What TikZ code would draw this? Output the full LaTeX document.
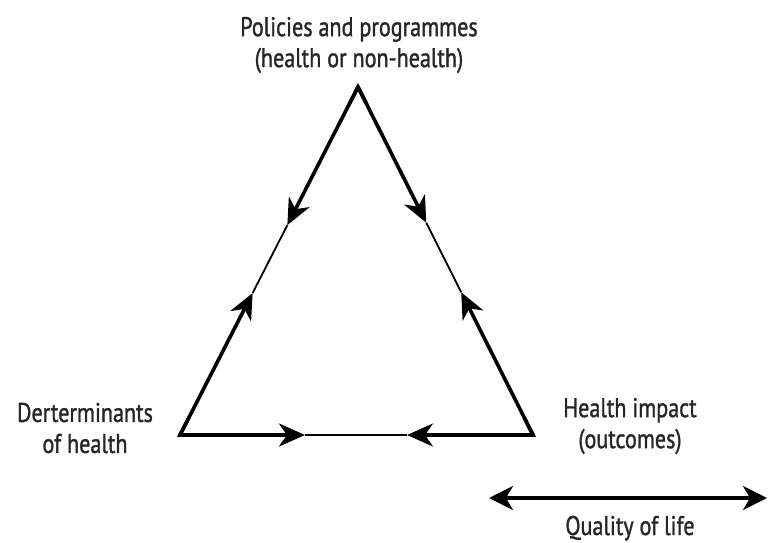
\documentclass[tikz,border=0pt]{standalone}
\usepackage{fontspec}
\setmainfont[FakeStretch=0.82,FakeBold=1.2]{PT Sans}
\usetikzlibrary{arrows.meta,calc}
\begin{document}
\begin{tikzpicture}[x=1pt,y=-1pt,
  lbl/.style={align=center,font=\fontsize{27}{31}\selectfont,text=black!85,inner sep=0pt},
  thickline/.style={line width=3.6pt,-{Stealth[length=26pt,width=23pt,inset=8pt]}},
  thinline/.style={line width=1.8pt},
  dbl/.style={line width=3.6pt,{Stealth[length=24pt,width=24pt,inset=7pt]}-{Stealth[length=24pt,width=24pt,inset=7pt]}}]
\useasboundingbox (0,0) rectangle (769,543);
\coordinate (T) at (358,87);
\coordinate (L) at (180,435);
\coordinate (R) at (533,435);
\coordinate (l1) at ($(T)!0.397!(L)$);
\coordinate (l2) at ($(T)!0.592!(L)$);
\coordinate (r1) at ($(T)!0.39!(R)$);
\coordinate (r2) at ($(T)!0.59!(R)$);
\coordinate (b1) at ($(L)!0.354!(R)$);
\coordinate (b2) at ($(L)!0.643!(R)$);
\draw[thinline] (l1) -- (l2);
\draw[thinline] (r1) -- (r2);
\draw[thinline] (b1) -- (b2);
\draw[thickline] (T) -- (l1);
\draw[thickline] (L) -- (l2);
\draw[thickline] (T) -- (r1);
\draw[thickline] (R) -- (r2);
\draw[thickline] (L) -- (b1);
\draw[thickline] (R) -- (b2);
\draw[line width=3.6pt,line join=miter] ($(T)!0.05!(L)$) -- (T) -- ($(T)!0.05!(R)$);
\draw[line width=3.6pt,line join=miter] ($(L)!0.05!(T)$) -- (L) -- ($(L)!0.05!(R)$);
\draw[line width=3.6pt,line join=miter] ($(R)!0.05!(T)$) -- (R) -- ($(R)!0.05!(L)$);
\node[lbl] (pol) at (359,45) {Policies and programmes\\(health or non-health)};
\node[lbl] (det) at (85,428) {Derterminants\\of health};
\node[lbl] (imp) at (630,426) {Health impact\\(outcomes)};
\coordinate (qa) at (489,498);
\coordinate (qb) at (767,498);
\draw[dbl] (qa) -- (qb);
\node[lbl,anchor=base] (qol) at (630,535) {Quality of life};
\end{tikzpicture}
\end{document}
